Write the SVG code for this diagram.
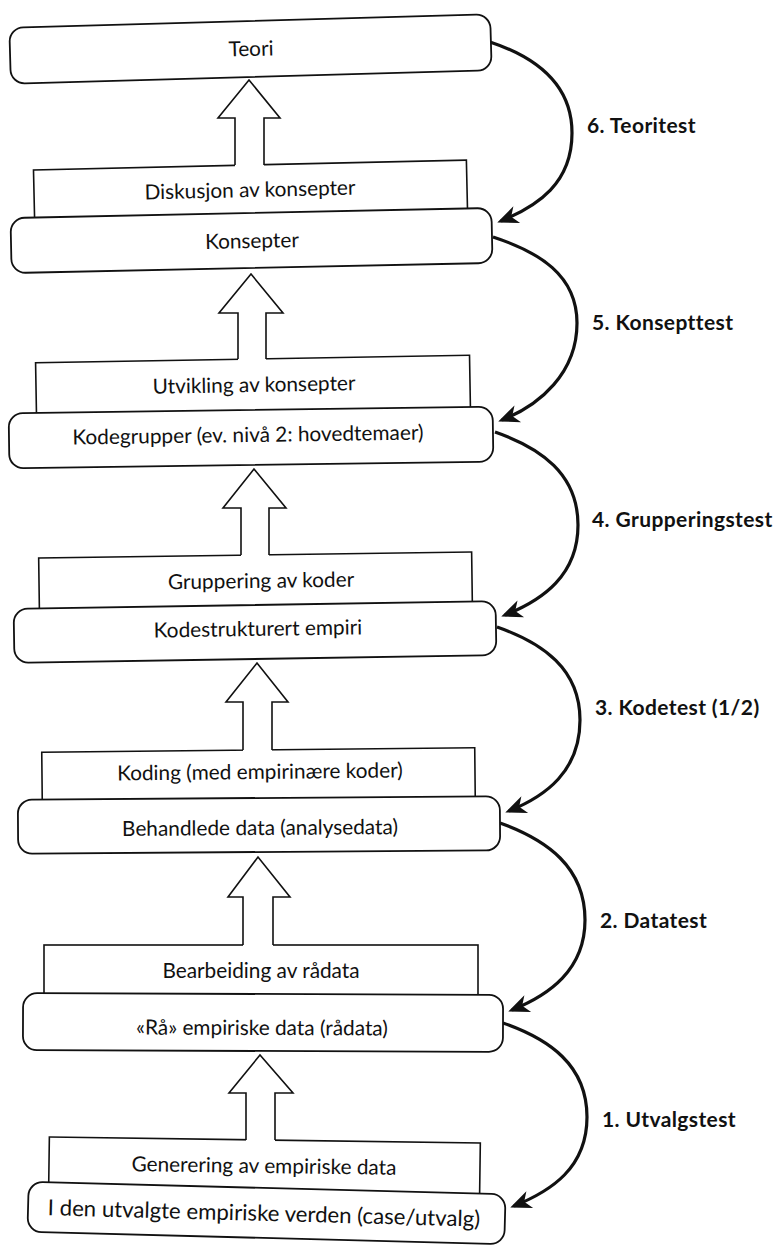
<svg xmlns="http://www.w3.org/2000/svg" width="782" height="1246" viewBox="0 0 782 1246">
<defs>
<style>
.state{fill:#fff;stroke:#111;stroke-width:1.8}
.step{fill:#fff;stroke:#111;stroke-width:1.6}
.lbl{font-family:Lato,"Liberation Sans",sans-serif;font-size:20.8px;fill:#111;text-anchor:middle}
.big{font-size:22.2px}
.test{font-family:Lato,"Liberation Sans",sans-serif;font-size:21px;letter-spacing:0.4px;font-weight:bold;fill:#111}
.cover{fill:#fff;stroke:none}
.hollow{fill:none;stroke:#111;stroke-width:1.6;stroke-linejoin:miter}
.curve{fill:none;stroke:#111;stroke-width:3.2;marker-end:url(#head)}
</style>
<marker id="head" markerUnits="userSpaceOnUse" orient="auto" refX="0" refY="0" markerWidth="40" markerHeight="40" overflow="visible">
<path d="M4,0 L-17,-9 L-11,0 L-17,9 Z" fill="#111"/>
</marker>
</defs>
<rect width="782" height="1246" fill="#fff"/>

<g id="step-diskusjon" transform="rotate(-1.3 250 190)"><rect class="step" x="34" y="165" width="433" height="62"/><text class="lbl" x="250" y="197">Diskusjon av konsepter</text></g>
<g id="step-utvikling" transform="rotate(-1.0 253 385)"><rect class="step" x="36" y="359" width="434" height="66"/><text class="lbl" x="254" y="392">Utvikling av konsepter</text></g>
<g id="step-gruppering" transform="rotate(-0.8 255 580)"><rect class="step" x="39" y="555" width="433" height="65"/><text class="lbl" x="261" y="588">Gruppering av koder</text></g>
<g id="step-koding" transform="rotate(-0.6 258 775)"><rect class="step" x="42" y="750" width="433" height="62"/><text class="lbl" x="260" y="779">Koding (med empirinære koder)</text></g>
<g id="step-bearbeiding"><rect class="step" x="44" y="945" width="434" height="64"/><text class="lbl" x="261" y="978">Bearbeiding av rådata</text></g>
<g id="step-generering" transform="rotate(0.8 264 1165)"><rect class="step" x="49" y="1140" width="431" height="60"/><text class="lbl" x="264" y="1173">Generering av empiriske data</text></g>

<g id="connectors">
<g id="up-a"><polygon class="cover" points="235,168 235,118 218,118 249,80 280,118 264,118 264,168"/><polyline class="hollow" points="235,165 235,118 218,118 249,80 280,118 264,118 264,165"/></g>
<g id="up-b"><polygon class="cover" points="238,362 238,313 219,313 251,274 283,313 266,313 266,362"/><polyline class="hollow" points="238,359 238,313 219,313 251,274 283,313 266,313 266,359"/></g>
<g id="up-c"><polygon class="cover" points="241,558 241,508 223,508 254,469 286,508 269,508 269,558"/><polyline class="hollow" points="241,555 241,508 223,508 254,469 286,508 269,508 269,555"/></g>
<g id="up-d"><polygon class="cover" points="243,753 243,702 226,702 257,663 288,702 272,702 272,753"/><polyline class="hollow" points="243,750 243,702 226,702 257,663 288,702 272,702 272,750"/></g>
<g id="up-e"><polygon class="cover" points="243,948 243,897 228,897 258,857 290,897 273,897 273,948"/><polyline class="hollow" points="243,945 243,897 228,897 258,857 290,897 273,897 273,945"/></g>
<g id="up-f"><polygon class="cover" points="246,1143 246,1093 229,1093 260,1055 293,1093 275,1093 275,1143"/><polyline class="hollow" points="246,1140 246,1093 229,1093 260,1055 293,1093 275,1093 275,1140"/></g>

<path id="test-6" class="curve" d="M490,42 C535,57 572,83 572,133 C572,183 538,206 501,221"/>
<path id="test-5" class="curve" d="M493,237 C539,252 577,275 577,323 C577,373 540,405 502,420"/>
<path id="test-4" class="curve" d="M495,432 C541,448 578,474 578,525 C578,575 543,600 505,615"/>
<path id="test-3" class="curve" d="M497,627 C543,643 580,669 580,720 C580,771 546,796 509,811"/>
<path id="test-2" class="curve" d="M500,823 C547,840 585,867 585,920 C585,970 549,995 512,1010"/>
<path id="test-1" class="curve" d="M503,1023 C549,1039 587,1065 587,1117 C587,1168 551,1191 514,1206"/>
</g>

<g id="labels">
<text class="test" x="587" y="133">6. Teoritest</text>
<text class="test" x="592" y="330">5. Konsepttest</text>
<text class="test" x="592" y="527">4. Grupperingstest</text>
<text class="test" x="595" y="715">3. Kodetest (1/2)</text>
<text class="test" x="600" y="928">2. Datatest</text>
<text class="test" x="602" y="1127">1. Utvalgstest</text>
</g>

<g id="state-teori" transform="rotate(-1.6 250 49)"><rect class="state" x="10" y="21" width="481" height="56" rx="14"/><text class="lbl" x="251" y="56">Teori</text></g>
<g id="state-konsepter" transform="rotate(-1.2 251 240)"><rect class="state" x="11" y="213" width="481" height="55" rx="14"/><text class="lbl" x="252" y="248">Konsepter</text></g>
<g id="state-kodegrupper" transform="rotate(-0.8 251 437)"><rect class="state" x="9" y="410" width="484" height="55" rx="14"/><text class="lbl" x="248" y="442">Kodegrupper (ev. nivå 2: hovedtemaer)</text></g>
<g id="state-kodestrukturert" transform="rotate(-0.9 255 632)"><rect class="state" x="14" y="605" width="482" height="54" rx="14"/><text class="lbl" x="258" y="636">Kodestrukturert empiri</text></g>
<g id="state-behandlede" transform="rotate(-0.4 259 825)"><rect class="state" x="18" y="798" width="482" height="54" rx="14"/><text class="lbl" x="260" y="835">Behandlede data (analysedata)</text></g>
<g id="state-raadata" transform="rotate(0.2 263 1022)"><rect class="state" x="23" y="994" width="480" height="57" rx="14"/><text class="lbl" x="262" y="1035">«Rå» empiriske data (rådata)</text></g>
<g id="state-verden" transform="rotate(1.5 266 1213)"><rect class="state" x="28" y="1188" width="477" height="50" rx="14"/><text class="lbl big" x="264" y="1221">I den utvalgte empiriske verden (case/utvalg)</text></g>
</svg>
